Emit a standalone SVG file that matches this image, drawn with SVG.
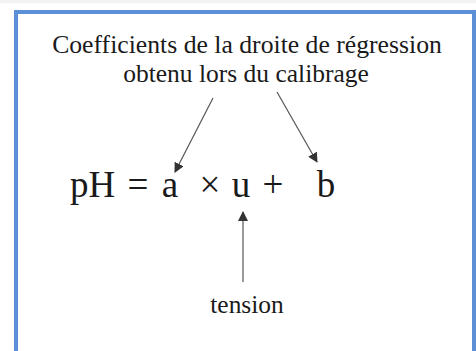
<svg xmlns="http://www.w3.org/2000/svg" width="476" height="351" viewBox="0 0 476 351">
<style>
text{font-family:'Liberation Serif','Times New Roman','DejaVu Serif',serif;fill:#1a1a1a}
.c{stroke:#555;stroke-width:1.2;fill:none;marker-end:url(#ah)}
</style>
<defs>
<marker id="ah" viewBox="0 0 10 10" refX="9" refY="5" markerWidth="10" markerHeight="10" markerUnits="userSpaceOnUse" orient="auto">
<path d="M0,0 L10,5 L0,10 z" fill="#333"/>
</marker>
</defs>
<rect width="476" height="351" fill="#fff"/>
<rect width="476" height="3" fill="#f2f2f2"/>
<rect x="16" y="12" width="458" height="345" fill="#fff" stroke="#5b8fd6" stroke-width="4"/>
<g id="title">
<text x="247" y="53" font-size="25.7" text-anchor="middle">Coefficients de la droite de régression</text>
<text x="246" y="82" font-size="25.5" text-anchor="middle">obtenu lors du calibrage</text>
</g>
<g id="equation" font-size="37">
<text x="70" y="197">pH</text>
<text x="138" y="197" text-anchor="middle">=</text>
<text x="170" y="197" text-anchor="middle">a</text>
<text x="210" y="197" text-anchor="middle">×</text>
<text x="241" y="197" text-anchor="middle">u</text>
<text x="273" y="197" text-anchor="middle">+</text>
<text x="326" y="197" text-anchor="middle">b</text>
</g>
<g id="tension">
<text x="247" y="313" font-size="25.4" text-anchor="middle">tension</text>
</g>
<g id="connectors">
<line class="c" x1="213" y1="98" x2="175" y2="172"/>
<line class="c" x1="277" y1="92" x2="317" y2="162"/>
<line class="c" x1="243" y1="282" x2="243" y2="212"/>
</g>
</svg>
